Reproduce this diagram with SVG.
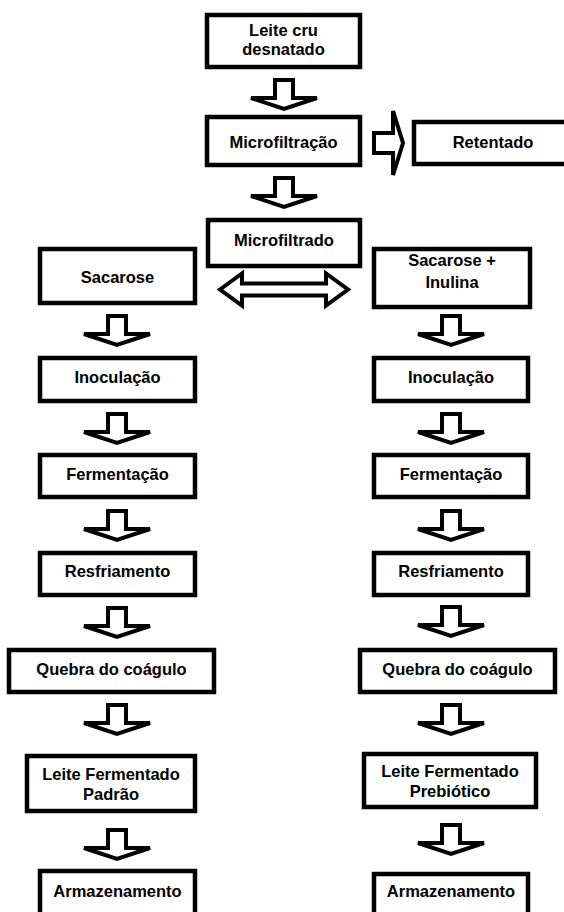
<svg xmlns="http://www.w3.org/2000/svg" xmlns:xlink="http://www.w3.org/1999/xlink" width="564" height="912" viewBox="0 0 564 912">
<style>
.box{fill:#fff;stroke:#000;stroke-width:4.5}
.arr{fill:#fff;stroke:#000;stroke-width:4}
text{font-family:"Liberation Sans",Arial,Helvetica,sans-serif;font-weight:bold;font-size:16.5px;text-anchor:middle;fill:#000}
</style>
<defs>
<path id="down" class="arr" d="M-9,0 H9 V18 H33 L0,29 L-33,18 H-9 Z"/>
</defs>
<rect width="564" height="912" fill="#fff"/>
<g id="connectors">
<use xlink:href="#down" x="284" y="80"/>
<use xlink:href="#down" x="284" y="178"/>
<path class="arr" d="M374,133 H393 V111 L403,143 L393,175 V153 H374 Z"/>
<path class="arr" d="M220,289.5 L242,273.5 V283.5 H326 V273.5 L348,289.5 L326,305.5 V295.5 H242 V305.5 Z"/>
<use xlink:href="#down" x="117" y="316"/>
<use xlink:href="#down" x="117" y="414"/>
<use xlink:href="#down" x="117" y="511"/>
<use xlink:href="#down" x="117" y="608"/>
<use xlink:href="#down" x="117" y="705"/>
<use xlink:href="#down" x="117" y="830"/>
<use xlink:href="#down" x="451" y="316"/>
<use xlink:href="#down" x="451" y="414"/>
<use xlink:href="#down" x="451" y="511"/>
<use xlink:href="#down" x="451" y="607"/>
<use xlink:href="#down" x="451" y="705"/>
<use xlink:href="#down" x="451" y="825"/>
</g>
<g id="leite-cru"><rect class="box" x="207" y="15" width="153" height="52"/><text x="283.5" y="36">Leite cru</text><text x="283.5" y="55">desnatado</text></g>
<g id="microfiltracao"><rect class="box" x="207" y="117" width="153" height="48"/><text x="283.5" y="148">Microfiltração</text></g>
<g id="retentado"><rect class="box" x="414" y="122" width="160" height="42"/><text x="493" y="148">Retentado</text></g>
<g id="microfiltrado"><rect class="box" x="208" y="220" width="152" height="46"/><text x="284" y="246">Microfiltrado</text></g>
<g id="sacarose"><rect class="box" x="40" y="249" width="155" height="54"/><text x="117.5" y="283">Sacarose</text></g>
<g id="sacarose-inulina"><rect class="box" x="374" y="249" width="156" height="58"/><text x="452" y="266">Sacarose +</text><text x="452" y="288">Inulina</text></g>
<g id="inoculacao-l"><rect class="box" x="40" y="358" width="155" height="43"/><text x="117.5" y="383">Inoculação</text></g>
<g id="fermentacao-l"><rect class="box" x="40" y="455" width="155" height="42"/><text x="117.5" y="480">Fermentação</text></g>
<g id="resfriamento-l"><rect class="box" x="40" y="553" width="155" height="42"/><text x="117.5" y="577">Resfriamento</text></g>
<g id="quebra-l"><rect class="box" x="9" y="650" width="205" height="42"/><text x="111.5" y="675">Quebra do coágulo</text></g>
<g id="padrao"><rect class="box" x="27" y="756" width="168" height="55"/><text x="111" y="780">Leite Fermentado</text><text x="111" y="800">Padrão</text></g>
<g id="armazenamento-l"><rect class="box" x="40" y="871" width="155" height="60"/><text x="117.5" y="897">Armazenamento</text></g>
<g id="inoculacao-r"><rect class="box" x="374" y="358" width="154" height="43"/><text x="451" y="383">Inoculação</text></g>
<g id="fermentacao-r"><rect class="box" x="374" y="455" width="154" height="42"/><text x="451" y="480">Fermentação</text></g>
<g id="resfriamento-r"><rect class="box" x="374" y="553" width="154" height="42"/><text x="451" y="577">Resfriamento</text></g>
<g id="quebra-r"><rect class="box" x="360" y="650" width="195" height="42"/><text x="457.5" y="675">Quebra do coágulo</text></g>
<g id="prebiotico"><rect class="box" x="364" y="754" width="172" height="53"/><text x="450" y="777">Leite Fermentado</text><text x="450" y="797">Prebiótico</text></g>
<g id="armazenamento-r"><rect class="box" x="374" y="874" width="154" height="60"/><text x="451" y="897">Armazenamento</text></g>
</svg>
